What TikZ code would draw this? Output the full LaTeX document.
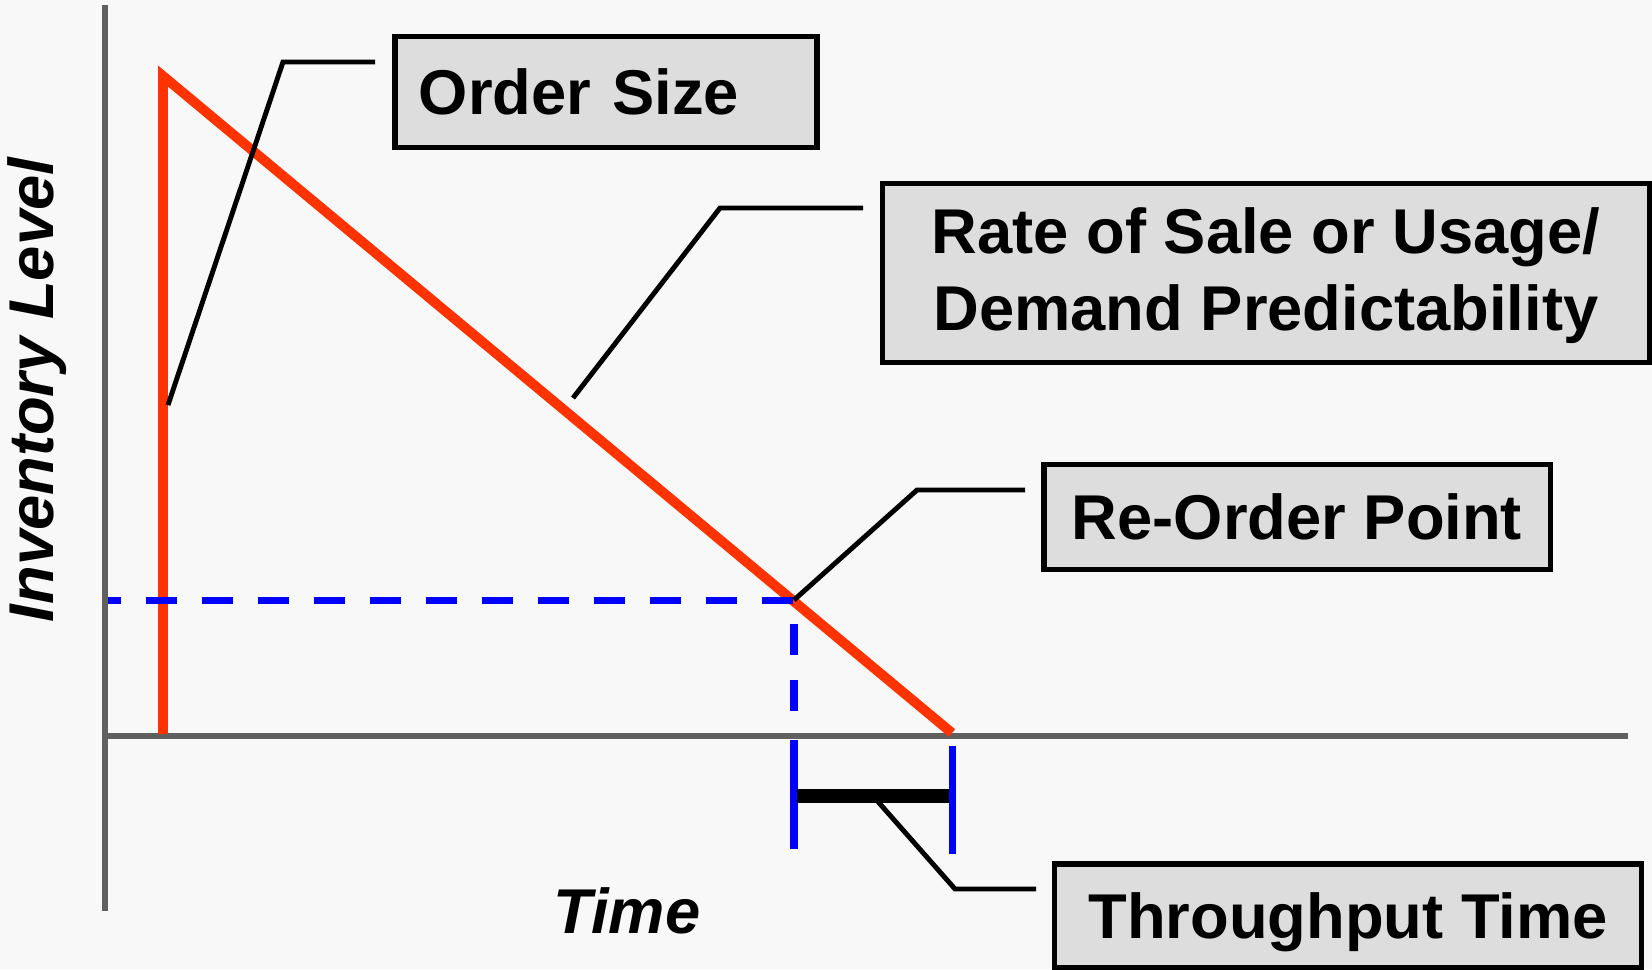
\documentclass[tikz,border=0pt]{standalone}
\usepackage{fontspec}
\setmainfont{Liberation Sans}
\usetikzlibrary{calc}
\definecolor{pagebg}{HTML}{F8F8F8}
\definecolor{boxgray}{HTML}{DDDDDD}
\definecolor{axisgray}{HTML}{606060}
\definecolor{stockred}{HTML}{FF3300}
\tikzset{
  callout/.style={draw=black,line width=1.5pt,fill=boxgray,inner sep=0pt,
    font=\bfseries\fontsize{18}{22}\selectfont},
  leader/.style={black,line width=1.4pt},
  axisline/.style={axisgray,line width=1.5pt},
  lead/.style={blue,line width=2pt}
}
\begin{document}
\begin{tikzpicture}[x=0.01cm,y=-0.01cm]
      \path[use as bounding box,fill=pagebg] (0,0) rectangle (1652,969);
      % axes
      \draw[axisline] (105,5) -- (105,911);
      \draw[axisline] (105,736) -- (1628,736);
      \node[rotate=90,font=\bfseries\itshape\fontsize{18}{22}\selectfont] (ylabel) at (37,390) {Inventory Level};
      \node[font=\bfseries\itshape\fontsize{18}{22}\selectfont] (xlabel) at (627,911) {Time};
      % stock curve
      \coordinate (start) at (163,734);
      \coordinate (peak) at (163,76);
      \coordinate (empty) at (952,733);
      \coordinate (rop) at (794,600);
      \draw[stockred,line width=2.8pt] (start) -- (peak) -- (empty);
      % re-order point and lead time
      \draw[lead,dash pattern=on 0.31cm off 0.25cm,dash phase=0.18cm] (108,600) -- (rop) -- (794,735);
      \coordinate (ltstart) at (794,796);
      \coordinate (ltend) at (952,796);
      \draw[lead] (794,740) -- (794,849);
      \draw[lead] (952,746) -- (952,854);
      \draw[line width=4pt] ([xshift=0.03cm]ltstart) -- ([xshift=-0.03cm]ltend);
      % callouts
      \node[callout,minimum width=4.22cm,minimum height=1.11cm,text width=3.74cm,align=left] (ordersize) at (606,92) {Order Size};
      \node[callout,minimum width=7.66cm,minimum height=1.79cm,align=center] (rate) at (1266,273) {\rule{0pt}{14.5pt}Rate of Sale or Usage/\\Demand Predictability};
      \node[callout,minimum width=5.06cm,minimum height=1.05cm] (reorder) at (1297,517) {Re-Order Point};
      \node[callout,minimum width=5.86cm,minimum height=1.04cm,text depth=0pt] (throughput) at (1348,916) {Throughput Time};
      \draw[leader] (168,405) -- (283,62) -- ($(ordersize.west |- 0,62)+(-17,0)$);
      \draw[leader] (573,398) -- (720,208) -- ($(rate.west |- 0,208)+(-17,0)$);
      \draw[leader] (rop) -- (917,490) -- ($(reorder.west |- 0,490)+(-16,0)$);
      \draw[leader] (873,796) -- (955,889) -- ($(throughput.west |- 0,889)+(-16,0)$);
    \end{tikzpicture}
\end{document}
